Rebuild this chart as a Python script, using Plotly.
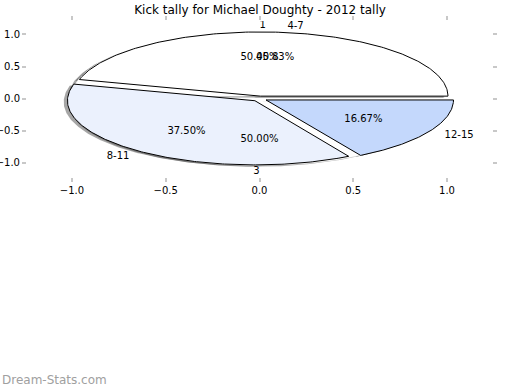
import numpy as np
import plotly.graph_objects as go

title = "Kick tally for Michael Doughty - 2012 tally"

# Pie A (drawn first)
labels_a = ["1", "3"]
values_a = [12, 12]
colors_a = ["#ffffff", "#ffffff"]
explode_a = [0.04, 0.04]

# Pie B (drawn on top)
labels_b = ["4-7", "8-11", "12-15"]
values_b = [11, 9, 4]
colors_b = ["#ffffff", "#ebf1fd", "#c4d8fc"]
explode_b = [0.04, 0.04, 0.04]

xticks = [-1.0, -0.5, 0.0, 0.5, 1.0]
yticks = [-1.0, -0.5, 0.0, 0.5, 1.0]

FONT = "DejaVu Sans"
W, H = 520, 390
fig = go.Figure()


def wedges(values, explode):
    total = float(sum(values))
    out = []
    t = 0.0
    for v, e in zip(values, explode):
        t1 = t
        t2 = t + 360.0 * v / total
        mid = np.deg2rad((t1 + t2) / 2)
        cx, cy = e * np.cos(mid), e * np.sin(mid)
        out.append((t1, t2, mid, cx, cy, 100.0 * v / total))
        t = t2
    return out


def poly(t1, t2, cx, cy, r=1.0):
    th = np.deg2rad(np.linspace(t1, t2, 200))
    xs = np.concatenate([[cx], cx + r * np.cos(th), [cx]])
    ys = np.concatenate([[cy], cy + r * np.sin(th), [cy]])
    return xs, ys


def add_texts(ws, labels):
    for (t1, t2, mid, cx, cy, pct), lab in zip(ws, labels):
        lx, ly = cx + 1.1 * np.cos(mid), cy + 1.1 * np.sin(mid)
        pos = "middle right" if np.cos(mid) > 0 else "middle left"
        fig.add_trace(go.Scatter(x=[lx], y=[ly], mode="text", text=[lab],
                                 textposition=pos, showlegend=False, hoverinfo="skip",
                                 textfont=dict(family=FONT, size=10, color="#000")))
        px, py = cx + 0.6 * np.cos(mid), cy + 0.6 * np.sin(mid)
        fig.add_trace(go.Scatter(x=[px], y=[py], mode="text", text=[f"{pct:.2f}%"],
                                 textposition="middle center", showlegend=False,
                                 hoverinfo="skip",
                                 textfont=dict(family=FONT, size=10, color="#000")))


wa = wedges(values_a, explode_a)
wb = wedges(values_b, explode_b)

# shadows of both pies (beneath all wedges)
for (t1, t2, mid, cx, cy, pct) in wa + wb:
    xs, ys = poly(t1, t2, cx - 0.02, cy - 0.02)
    fig.add_trace(go.Scatter(x=xs, y=ys, fill="toself", fillcolor="rgba(77,77,77,0.5)",
                             mode="lines", line=dict(width=0, color="rgba(0,0,0,0)"),
                             showlegend=False, hoverinfo="skip"))

# pie A wedges
for (t1, t2, mid, cx, cy, pct), col in zip(wa, colors_a):
    xs, ys = poly(t1, t2, cx, cy)
    fig.add_trace(go.Scatter(x=xs, y=ys, fill="toself", fillcolor=col, mode="lines",
                             line=dict(color=col, width=0.5), showlegend=False,
                             hoverinfo="skip"))

# pie B wedges
for (t1, t2, mid, cx, cy, pct), col in zip(wb, colors_b):
    xs, ys = poly(t1, t2, cx, cy)
    fig.add_trace(go.Scatter(x=xs, y=ys, fill="toself", fillcolor=col, mode="lines",
                             line=dict(color="#000", width=1), showlegend=False,
                             hoverinfo="skip"))

add_texts(wb, labels_b)
add_texts(wa, labels_a)

axis_common = dict(showgrid=False, zeroline=False, showline=False, ticks="outside",
                   ticklen=4, tickwidth=1.5, tickcolor="#c8c8c8", mirror="ticks",
                   tickformat=".1f", automargin=False,
                   tickfont=dict(family=FONT, size=10, color="#000"))

fig.update_xaxes(range=[-1.24, 1.24], tickvals=xticks, **axis_common)
fig.update_yaxes(range=[-1.22, 1.21], tickvals=yticks, **axis_common)

L, T = 27, 21
PW, PH = 465, 156
fig.add_annotation(text="Dream-Stats.com", xref="paper", yref="paper",
                   x=-L / PW, y=-(380 - 177) / PH, xanchor="left", yanchor="middle",
                   showarrow=False, font=dict(family=FONT, size=12, color="#a0a0a0"))

fig.update_layout(
    width=W, height=H,
    margin=dict(l=L, r=W - L - PW, t=T, b=H - T - PH, autoexpand=False),
    paper_bgcolor="#fff", plot_bgcolor="#fff",
    title=dict(text=title, x=260 / W, xanchor="center",
               y=1 - 9.5 / H, yanchor="middle",
               yref="container", automargin=False,
               font=dict(family=FONT, size=12, color="#000")),
)

fig.write_html("out.html", config={"displayModeBar": False},
               post_script="document.body.style.margin='0px';")
